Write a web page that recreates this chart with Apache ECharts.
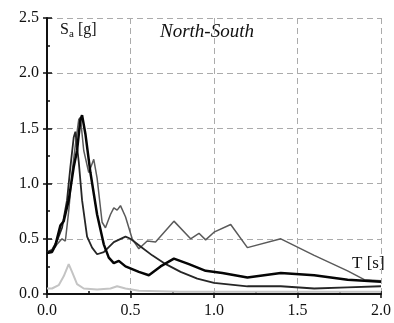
<!DOCTYPE html>
<html>
<head>
<meta charset="utf-8">
<script src="https://cdn.jsdelivr.net/npm/echarts@6/dist/echarts.min.js"></script>
<style>
  html, body { margin: 0; padding: 0; background: #fff; }
  #chart { width: 394px; height: 323px; }
</style>
</head>
<body>
<div id="chart"></div>
<script>
// periods T [s] and spectral accel Sa [g]
var periodsA = [0, 0.03, 0.07, 0.1, 0.13, 0.15, 0.18, 0.22, 0.3, 0.38, 0.42, 0.47, 0.55, 0.8, 1.2, 1.6, 2.0]
var saA = [0.05, 0.05, 0.08, 0.16, 0.27, 0.2, 0.09, 0.05, 0.04, 0.05, 0.07, 0.05, 0.03, 0.02, 0.02, 0.02, 0.02]

var periodsB = [0, 0.03, 0.05, 0.08, 0.1, 0.13, 0.16, 0.18, 0.2, 0.21, 0.23, 0.26, 0.3, 0.34, 0.37, 0.4, 0.43, 0.47, 0.55, 0.61, 0.68, 0.76, 0.85, 0.95, 1.05, 1.2, 1.4, 1.6, 1.8, 2.0]
var saB = [0.37, 0.38, 0.44, 0.62, 0.66, 0.85, 1.15, 1.3, 1.58, 1.62, 1.45, 1.1, 0.72, 0.45, 0.33, 0.28, 0.3, 0.25, 0.2, 0.17, 0.25, 0.32, 0.27, 0.21, 0.19, 0.15, 0.19, 0.17, 0.13, 0.11]

var periodsC = [0, 0.03, 0.06, 0.09, 0.12, 0.14, 0.16, 0.17, 0.19, 0.21, 0.24, 0.27, 0.3, 0.34, 0.4, 0.47, 0.5, 0.56, 0.63, 0.7, 0.8, 0.9, 1.0, 1.2, 1.4, 1.6, 1.8, 2.0]
var saC = [0.38, 0.4, 0.48, 0.6, 0.85, 1.15, 1.42, 1.47, 1.2, 0.85, 0.52, 0.42, 0.36, 0.38, 0.47, 0.52, 0.5, 0.43, 0.35, 0.28, 0.2, 0.14, 0.1, 0.07, 0.07, 0.05, 0.06, 0.07]

var periodsD = [0, 0.03, 0.06, 0.09, 0.11, 0.13, 0.15, 0.17, 0.19, 0.2, 0.22, 0.25, 0.27, 0.28, 0.3, 0.33, 0.35, 0.38, 0.4, 0.42, 0.44, 0.47, 0.51, 0.55, 0.6, 0.65, 0.76, 0.86, 0.91, 0.95, 1.0, 1.1, 1.2, 1.4, 1.6, 1.8, 1.9, 2.0]
var saD = [0.37, 0.39, 0.45, 0.5, 0.48, 0.75, 1.1, 1.35, 1.58, 1.6, 1.3, 1.1, 1.18, 1.22, 1.05, 0.65, 0.6, 0.72, 0.78, 0.76, 0.8, 0.7, 0.5, 0.41, 0.48, 0.47, 0.66, 0.5, 0.55, 0.49, 0.56, 0.63, 0.42, 0.5, 0.35, 0.21, 0.13, 0.12]

var xTicks = ['0.0', '0.5', '1.0', '1.5', '2.0']
var yTicks = ['0.0', '0.5', '1.0', '1.5', '2.0', '2.5']

function pairs (xs, ys) {
  return xs.map(function (x, i) { return [x, ys[i]] })
}

var serif = '"Liberation Serif", "DejaVu Serif", serif'

function lineSeries (xs, ys, color, width) {
  return {
    type: 'line',
    data: pairs(xs, ys),
    showSymbol: false,
    silent: true,
    lineStyle: { color: color, width: width },
    z: 3
  }
}

var chart = echarts.init(document.getElementById('chart'))
chart.setOption({
  animation: false,
  grid: { left: 47, right: 7, top: 18, bottom: 29 },
  xAxis: [{
    type: 'value',
    min: 0,
    max: 2,
    interval: 0.5,
    axisLine: { lineStyle: { color: '#111', width: 2 } },
    axisTick: { show: true, length: 4, lineStyle: { color: '#111', width: 1.5 } },
    axisLabel: {
      color: '#111',
      fontFamily: serif,
      fontSize: 16,
      margin: 9,
      formatter: function (v) { return xTicks[Math.round(v / 0.5)] }
    },
    splitLine: { show: true, lineStyle: { color: '#ababab', type: [6, 4], width: 1 } }
  }, {
    type: 'value',
    position: 'bottom',
    min: 0,
    max: 2,
    interval: 0.5,
    axisLine: { show: false },
    axisTick: { show: true, inside: true, length: 3, lineStyle: { color: '#111', width: 1.5 } },
    minorTick: { show: true, splitNumber: 2, length: 3, lineStyle: { color: '#111', width: 1.5 } },
    axisLabel: { show: false },
    splitLine: { show: false }
  }],
  yAxis: [{
    type: 'value',
    min: 0,
    max: 2.5,
    interval: 0.5,
    axisLine: { show: true, lineStyle: { color: '#111', width: 2 } },
    axisTick: { show: true, length: 4, lineStyle: { color: '#111', width: 1.5 } },
    axisLabel: {
      color: '#111',
      fontFamily: serif,
      fontSize: 16,
      margin: 8,
      formatter: function (v) { return yTicks[Math.round(v / 0.5)] }
    },
    splitLine: { show: true, lineStyle: { color: '#ababab', type: [6, 4], width: 1 } }
  }, {
    type: 'value',
    position: 'left',
    min: 0,
    max: 2.5,
    interval: 0.5,
    axisLine: { show: false },
    axisTick: { show: true, inside: true, length: 5, lineStyle: { color: '#111', width: 1.5 } },
    minorTick: { show: true, splitNumber: 2, length: 3, lineStyle: { color: '#111', width: 1.5 } },
    axisLabel: { show: false },
    splitLine: { show: false }
  }],
  series: [
    lineSeries(periodsA, saA, '#c4c4c4', 2),
    lineSeries(periodsD, saD, '#5a5a5a', 1.5),
    lineSeries(periodsC, saC, '#262626', 1.8),
    lineSeries(periodsB, saB, '#050505', 2.5)
  ],
  graphic: [{
    type: 'text',
    left: 60,
    top: 22,
    style: { text: 'S', fontFamily: serif, fontSize: 16, fill: '#111' }
  }, {
    type: 'text',
    left: 69,
    top: 29,
    style: { text: 'a', fontFamily: serif, fontSize: 11, fill: '#111' }
  }, {
    type: 'text',
    left: 78,
    top: 22,
    style: { text: '[g]', fontFamily: serif, fontSize: 16, fill: '#111' }
  }, {
    type: 'text',
    left: 160,
    top: 22,
    style: {
      text: 'North-South',
      fontFamily: serif,
      fontStyle: 'italic',
      fontSize: 19,
      fill: '#111'
    }
  }, {
    type: 'text',
    left: 352,
    top: 255,
    style: { text: 'T [s]', fontFamily: serif, fontSize: 17, fill: '#111' }
  }]
})
</script>
</body>
</html>
